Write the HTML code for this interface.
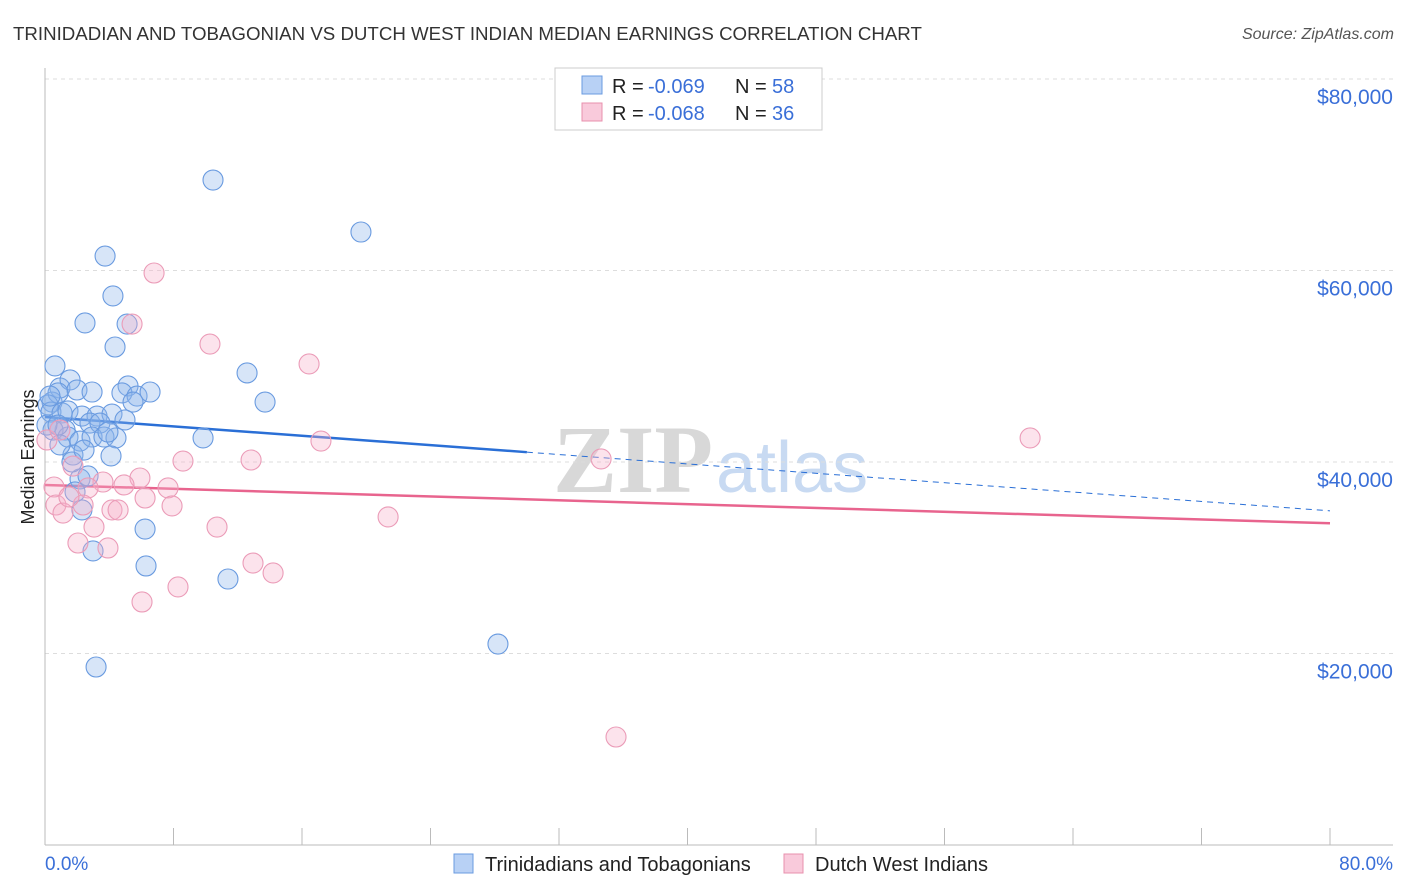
<!DOCTYPE html>
<html><head><meta charset="utf-8"><style>
body{margin:0;background:#fff;font-family:"Liberation Sans",sans-serif;}
svg{display:block}
</style></head><body>
<svg id="chart" width="1406" height="892" xmlns="http://www.w3.org/2000/svg">
<text x="13" y="40" font-size="18.7" fill="#333">TRINIDADIAN AND TOBAGONIAN VS DUTCH WEST INDIAN MEDIAN EARNINGS CORRELATION CHART</text>
<text x="1394" y="39" font-size="16" fill="#555" font-style="italic" text-anchor="end">Source: ZipAtlas.com</text>
<g>
<text x="553" y="492" font-size="96" font-family="Liberation Serif,serif" font-weight="bold" fill="#d8d8d8">ZIP</text>
<text x="716" y="492" font-size="72" fill="#c8daf2">atlas</text>
</g>
<g id="grid"></g>
<g id="axes"></g>
<g id="lines"></g>
<g id="points"></g>
<text transform="translate(34,457) rotate(-90)" font-size="18" fill="#222" text-anchor="middle">Median Earnings</text>
<g font-size="20">
<rect x="555" y="68" width="267" height="62" fill="#fff" stroke="#ccc"/>
<rect x="582" y="76" width="20" height="18" fill="#b8d1f5" stroke="#6a9be0"/>
<text x="612" y="93" fill="#222">R =</text><text x="648" y="93" fill="#3a6fd8">-0.069</text>
<text x="735" y="93" fill="#222">N =</text><text x="772" y="93" fill="#3a6fd8">58</text>
<rect x="582" y="103" width="20" height="18" fill="#f9cadb" stroke="#e890ae"/>
<text x="612" y="120" fill="#222">R =</text><text x="648" y="120" fill="#3a6fd8">-0.068</text>
<text x="735" y="120" fill="#222">N =</text><text x="772" y="120" fill="#3a6fd8">36</text>
</g>
<g>
<rect x="454" y="854" width="19" height="19" fill="#b8d1f5" stroke="#6a9be0"/>
<text x="485" y="871" font-size="20" fill="#222">Trinidadians and Tobagonians</text>
<rect x="784" y="854" width="19" height="19" fill="#f9cadb" stroke="#e890ae"/>
<text x="815" y="871" font-size="20" fill="#222">Dutch West Indians</text>
</g>
<text x="45" y="870" font-size="19" fill="#3a6fd8">0.0%</text>
<text x="1393" y="870" font-size="19" fill="#3a6fd8" text-anchor="end">80.0%</text>
</svg>
<script>
const blueX=[10.46,19.67,3.74,4.23,2.49,5.11,4.36,0.62,12.58,0.93,1.56,1.99,2.93,5.17,4.79,5.73,6.54,5.48,13.70,0.44,0.81,0.19,0.37,1.06,1.43,2.30,3.24,4.17,4.98,2.80,3.42,1.25,0.50,1.43,2.18,2.93,3.67,4.42,9.84,1.74,4.11,2.18,2.68,1.87,2.30,6.23,2.99,6.29,11.39,28.20,3.18,0.12,0.81,1.68,3.92,0.31,0.93,2.43];
const blueY=[69.45,64.02,61.51,57.34,54.52,54.41,52.01,50.03,49.30,47.73,48.57,47.52,47.31,47.94,47.21,46.89,47.31,46.26,46.26,46.26,47.21,45.96,45.22,45.12,45.33,44.80,44.80,45.01,44.39,44.07,44.07,43.34,43.34,42.61,42.19,42.61,42.61,42.51,42.51,40.73,40.63,38.23,38.54,36.87,34.99,33.00,30.71,29.14,27.78,20.99,18.59,43.86,43.86,40.00,43.13,46.89,41.78,41.25];
const pinkX=[6.79,5.42,10.27,16.44,17.18,61.33,34.62,8.59,12.83,1.74,0.56,5.91,3.61,2.68,4.92,7.66,6.23,0.68,1.12,2.37,4.17,4.55,7.91,21.36,3.05,10.71,2.05,3.92,12.95,14.20,8.28,6.04,35.55,0.12,1.49,0.93];
const pinkY=[59.74,54.41,52.32,50.24,42.19,42.51,40.32,40.10,40.21,39.58,37.39,38.33,37.91,37.29,37.60,37.29,36.24,35.51,34.67,35.51,34.99,34.99,35.41,34.26,33.21,33.21,31.54,31.02,29.45,28.41,26.95,25.38,11.28,42.30,36.35,43.34];
const yTicks=[20,40,60,80];
const yTickLabels=["$20,000","$40,000","$60,000","$80,000"];
const blueTrend=[44.7,34.9];
const blueSolidEnd=30.0;
const pinkTrend=[37.6,33.6];

const NS="http://www.w3.org/2000/svg";
const xs=v=>45+v/80*1285;
const ys=v=>845-v*9.575;
function mk(tag,attrs,parent){const e=document.createElementNS(NS,tag);for(const k in attrs)e.setAttribute(k,attrs[k]);parent.appendChild(e);return e;}
const grid=document.getElementById('grid'),axes=document.getElementById('axes'),lines=document.getElementById('lines'),pts=document.getElementById('points');
yTicks.forEach((t,i)=>{
 const l=mk('line',{x1:45,x2:1393,y1:ys(t),y2:ys(t),stroke:'#ddd','stroke-dasharray':'4,4'},grid);
 
 
 const tx=mk('text',{x:1393,y:ys(t)+25,'font-size':21,fill:'#3a6fd8','text-anchor':'end'},grid);
 tx.textContent=yTickLabels[i];
 
 
});
const ax=mk('line',{x1:45,x2:1393,y1:845,y2:845,stroke:'#bbb'},axes);


const ay=mk('line',{x1:45,x2:45,y1:68,y2:845,stroke:'#bbb'},axes);


for(let i=0;i<=10;i++){
 const t=mk('line',{x1:xs(i*8),x2:xs(i*8),y1:828,y2:845,stroke:'#bbb'},axes);
 
 
}
const bt=v=>blueTrend[0]+(blueTrend[1]-blueTrend[0])*v/80;
const pt=v=>pinkTrend[0]+(pinkTrend[1]-pinkTrend[0])*v/80;
const b1=mk('line',{x1:xs(0),y1:ys(bt(0)),x2:xs(blueSolidEnd),y2:ys(bt(blueSolidEnd)),stroke:'#2a6fd6','stroke-width':2.5},lines);


const b2=mk('line',{x1:xs(blueSolidEnd),y1:ys(bt(blueSolidEnd)),x2:xs(80),y2:ys(bt(80)),stroke:'#2a6fd6','stroke-width':1,'stroke-dasharray':'6,5'},lines);


const p1=mk('line',{x1:xs(0),y1:ys(pt(0)),x2:xs(80),y2:ys(pt(80)),stroke:'#e8648e','stroke-width':2.5},lines);


blueX.forEach((x,i)=>{
 const c=mk('circle',{cx:xs(x),cy:ys(blueY[i]),r:10,fill:'rgba(140,180,235,0.35)',stroke:'#6a9be0','stroke-width':1.1},pts);
 
 
});
pinkX.forEach((x,i)=>{
 const c=mk('circle',{cx:xs(x),cy:ys(pinkY[i]),r:10,fill:'rgba(245,175,200,0.35)',stroke:'#eb9cb8','stroke-width':1.1},pts);
 
 
});
</script>
</body></html>
